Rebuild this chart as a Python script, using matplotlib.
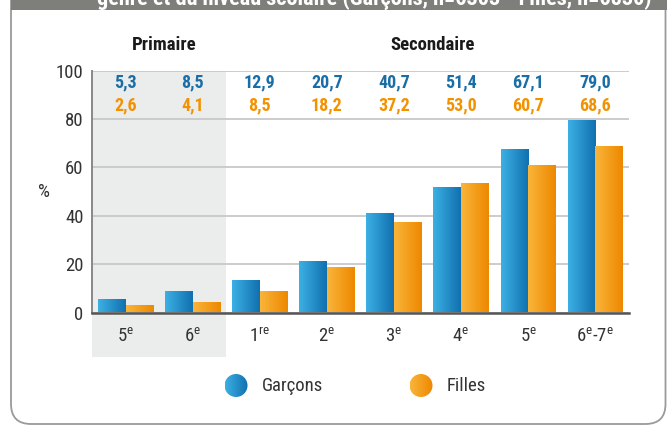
import numpy as np
import matplotlib
matplotlib.use("Agg")
import matplotlib.pyplot as plt
from matplotlib.patches import Rectangle, FancyBboxPatch, Circle
from matplotlib.colors import LinearSegmentedColormap

plt.rcParams['font.family'] = ['Roboto Condensed', 'Roboto', 'DejaVu Sans']
plt.rcParams['mathtext.fontset'] = 'custom'
plt.rcParams['mathtext.rm'] = 'Roboto Condensed'

#%% data
grades = ['5$^{\\mathrm{e}}$', '6$^{\\mathrm{e}}$', '1$^{\\mathrm{re}}$', '2$^{\\mathrm{e}}$',
          '3$^{\\mathrm{e}}$', '4$^{\\mathrm{e}}$', '5$^{\\mathrm{e}}$',
          '6$^{\\mathrm{e}}$-7$^{\\mathrm{e}}$']
garcons = [5.3, 8.5, 12.9, 20.7, 40.7, 51.4, 67.1, 79.0]
filles = [2.6, 4.1, 8.5, 18.2, 37.2, 53.0, 60.7, 68.6]
n_primaire = 2
title = "genre et du niveau scolaire (Garçons, n=6303 - Filles, n=6830)"

blue_txt = '#1a6ea5'
orange_txt = '#f39200'
cm_blue = LinearSegmentedColormap.from_list('b', ['#3cb0e3', '#1170b0'])
cm_orange = LinearSegmentedColormap.from_list('o', ['#f9b53a', '#ee8800'])
grad = np.linspace(0, 1, 64).reshape(1, -1)

W, H = 667, 426
fig = plt.figure(figsize=(W/100, H/100), dpi=100)
ax = fig.add_axes([92/W, 1-312.5/H, (628.7-92)/W, (312.5-70.7)/H])

x = np.arange(len(grades))
bw = 0.41
bars_g = ax.bar(x - bw/2, garcons, bw, color='none', zorder=3)
bars_f = ax.bar(x + bw/2, filles, bw, color='none', zorder=3)

# gradient fill inside each bar
for bars, cm in [(bars_g, cm_blue), (bars_f, cm_orange)]:
    for b in bars:
        x0, y0 = b.get_x(), b.get_y()
        ax.imshow(grad, cmap=cm, aspect='auto', zorder=3,
                  extent=[x0, x0 + b.get_width(), y0, y0 + b.get_height()])

ax.set_xlim(-0.5, len(grades) - 0.5)
ax.set_ylim(0, 100)

# shaded primary block
ax.add_patch(Rectangle((-0.5, -18.3), n_primaire, 118.3, facecolor='#ebecec',
                       edgecolor='none', zorder=0.1, clip_on=False))

ax.set_axisbelow(True)
ax.yaxis.grid(True, color='#c8c8c8', lw=1.3)
ax.set_yticks([0, 20, 40, 60, 80, 100])
ax.set_xticks(x)
ax.set_xticklabels(grades)
ax.tick_params(length=0, labelsize=13.5, colors='#333333')
ax.tick_params(axis='x', pad=11)
ax.tick_params(axis='y', pad=6)
for s in ['top', 'right']:
    ax.spines[s].set_visible(False)
ax.spines['bottom'].set_color('#555555')
ax.spines['bottom'].set_linewidth(1.8)
ax.spines['bottom'].set_zorder(4)
ax.spines['left'].set_color('#888888')
ax.spines['left'].set_linewidth(1.4)
ax.patch.set_alpha(0)

# value rows
for i in range(len(grades)):
    ax.text(x[i], 95, f"{garcons[i]:.1f}".replace('.', ','), color=blue_txt,
            ha='center', va='center', fontsize=13, fontweight='bold')
    ax.text(x[i], 85.5, f"{filles[i]:.1f}".replace('.', ','), color=orange_txt,
            ha='center', va='center', fontsize=13, fontweight='bold')

ax.text(0.58, 110.5, 'Primaire', ha='center', va='center', fontsize=13.5,
        fontweight='bold', color='#1a1a1a')
ax.text(4.58, 110.5, 'Secondaire', ha='center', va='center', fontsize=13.5,
        fontweight='bold', color='#1a1a1a')
ax.text(-0.5 - 0.71, 50, '%', ha='center', va='center', fontsize=13.5,
        color='#333333')

#%% overlay in pixel coords: frame, banner, legend
ov = fig.add_axes([0, 0, 1, 1], zorder=5)
ov.set_xlim(0, W)
ov.set_ylim(H, 0)
ov.axis('off')
ov.patch.set_alpha(0)

ov.add_patch(FancyBboxPatch((11, -30), W - 11 - 1.5, H - 2 + 30,
                            boxstyle='round,pad=0,rounding_size=20',
                            facecolor='none', edgecolor='#9a9a9a', lw=1.3))
ov.add_patch(Rectangle((11, -5), W, 14.5, facecolor='#7e7f7a', edgecolor='none'))
ov.text(97, 5, title, ha='left', va='baseline', fontsize=16,
        fontweight='bold', color='white')

for cx, cm, lab in [(236, cm_blue, 'Garçons'), (421, cm_orange, 'Filles')]:
    c = Circle((cx, 385.5), 11.5, facecolor='none', edgecolor='none')
    ov.add_patch(c)
    im = ov.imshow(grad, cmap=cm, aspect='auto',
                   extent=[cx - 11.5, cx + 11.5, 385.5 + 11.5, 385.5 - 11.5])
    im.set_clip_path(c)
    ov.text(cx + 26, 386, lab, ha='left', va='center', fontsize=13.5,
            color='#333333')
ov.set_xlim(0, W)
ov.set_ylim(H, 0)

fig.savefig('out.png', dpi=100)
